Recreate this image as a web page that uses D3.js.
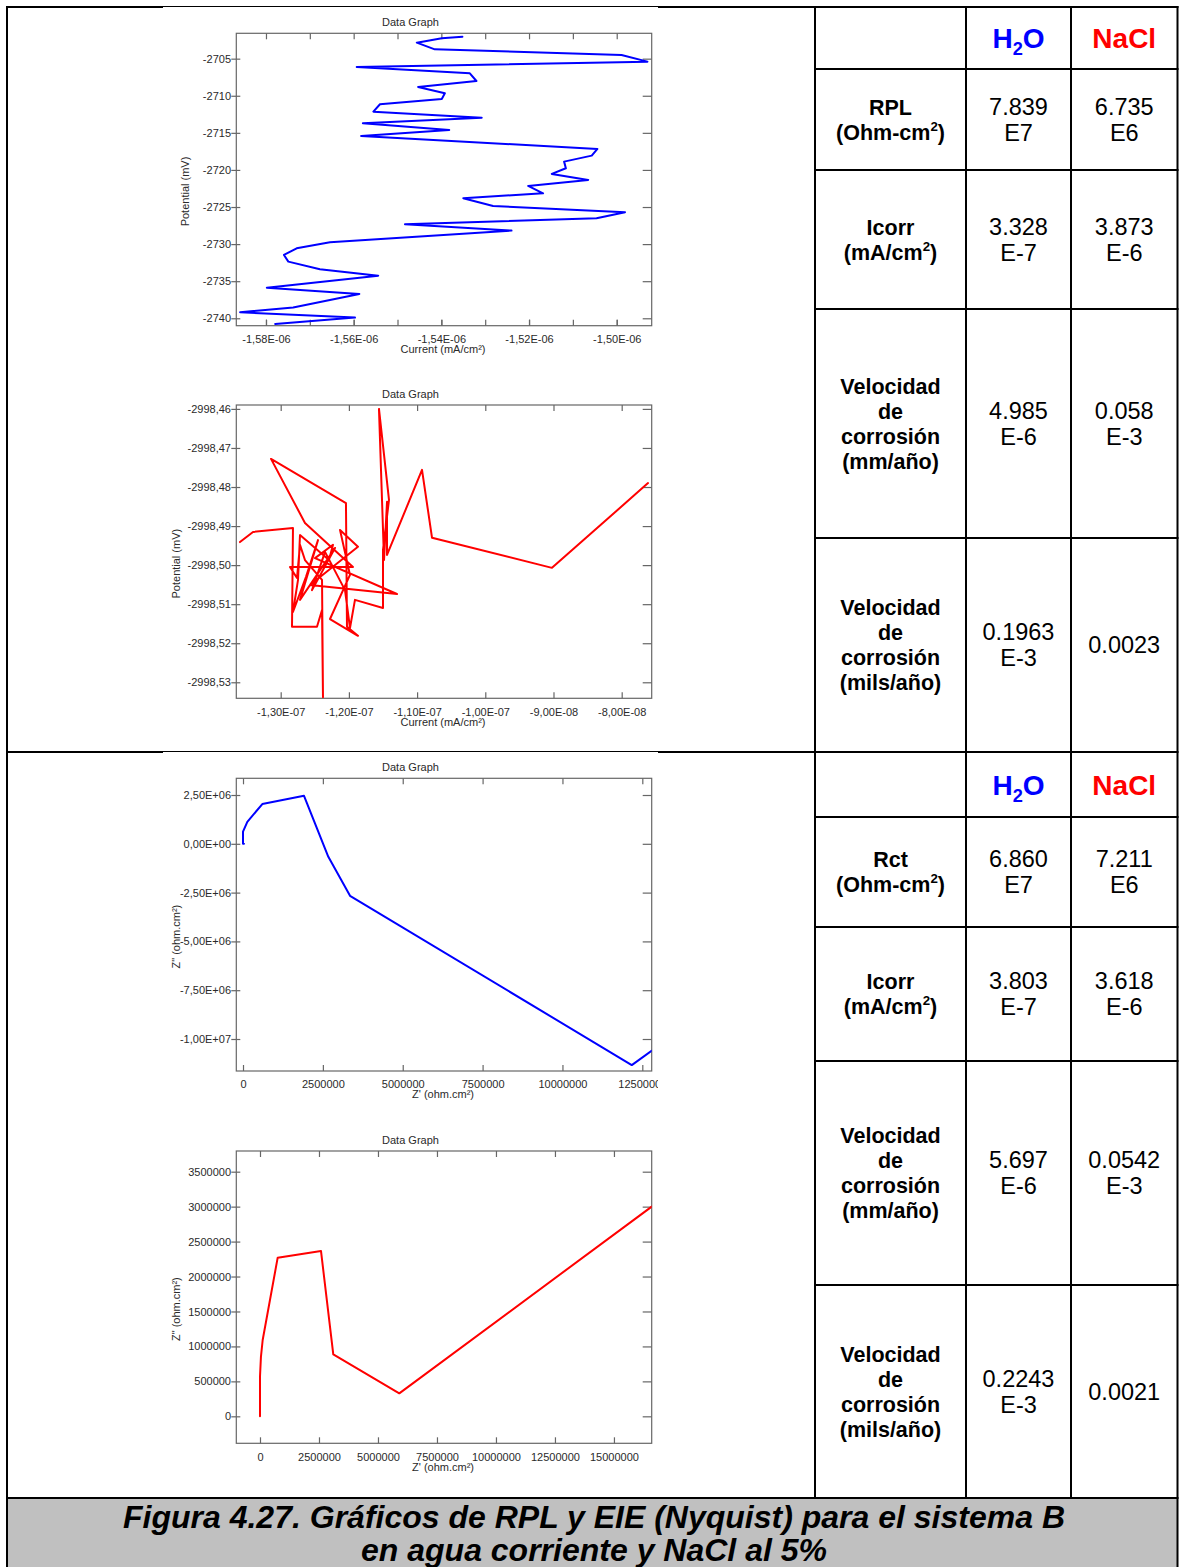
<!DOCTYPE html>
<html lang="es">
<head>
<meta charset="utf-8">
<title>Figura 4.27 – RPL y EIE (Nyquist), sistema B</title>
<script src="https://cdn.jsdelivr.net/npm/d3@7/dist/d3.min.js"></script>
<style>
  html, body { margin: 0; padding: 0; background: #fff; }
  svg { display: block; }
  .chart text { font-family: "Liberation Sans", Arial, sans-serif; fill: #2a2a2a; }
  .tbl text { font-family: "Liberation Sans", Arial, sans-serif; fill: #000; }
  .caption text { font-family: "Liberation Sans Narrow", "Arial Narrow", "Liberation Sans", Arial, sans-serif; fill: #000; }
</style>
</head>
<body>
<svg id="fig" width="1180" height="1567"></svg>
<script>
// ---------- RPL sweep, tap water (current mA/cm², potential mV) ----------
const rplH2OCurrent = [
  -1.5352e-6, -1.5399e-6, -1.5456e-6, -1.5415e-6, -1.4989e-6, -1.4930e-6, -1.5593e-6, -1.5335e-6,
  -1.5320e-6, -1.5453e-6, -1.5392e-6, -1.5399e-6, -1.5540e-6, -1.5555e-6, -1.5308e-6, -1.5579e-6,
  -1.5382e-6, -1.5583e-6, -1.5044e-6, -1.5057e-6, -1.5120e-6, -1.5116e-6, -1.5148e-6, -1.5065e-6,
  -1.5202e-6, -1.5168e-6, -1.5350e-6, -1.5282e-6, -1.4981e-6, -1.5046e-6, -1.5483e-6, -1.5240e-6,
  -1.5654e-6, -1.5730e-6, -1.5759e-6, -1.5749e-6, -1.5677e-6, -1.5544e-6, -1.5798e-6, -1.5587e-6,
  -1.5738e-6, -1.5859e-6, -1.5597e-6, -1.5779e-6
];
const rplH2OPotential = [
  -2702.03, -2702.25, -2702.84, -2703.74, -2704.50, -2705.40, -2706.12, -2706.97,
  -2708.01, -2708.82, -2709.67, -2710.43, -2711.15, -2712.14, -2712.95, -2713.71,
  -2714.61, -2715.42, -2717.17, -2718.07, -2718.88, -2719.78, -2720.54, -2721.35,
  -2722.16, -2723.15, -2723.82, -2724.86, -2725.71, -2726.52, -2727.33, -2728.18,
  -2729.75, -2730.56, -2731.46, -2732.36, -2733.39, -2734.25, -2735.87, -2736.72,
  -2738.56, -2739.19, -2739.91, -2740.76
];
const rplH2OXTicks = [-1.58e-6, -1.56e-6, -1.54e-6, -1.52e-6, -1.50e-6];
const rplH2OXMinor = [-1.58e-6, -1.57e-6, -1.56e-6, -1.55e-6, -1.54e-6, -1.53e-6, -1.52e-6, -1.51e-6, -1.50e-6];
const rplH2OYTicks = [-2705, -2710, -2715, -2720, -2725, -2730, -2735, -2740];

// ---------- RPL sweep, 5% NaCl ----------
const rplNaClCurrent = [
  -1.3597e-7, -1.3406e-7, -1.2820e-7, -1.2834e-7, -1.2468e-7, -1.2394e-7, -1.2380e-7, -1.2394e-7,
  -1.2644e-7, -1.2717e-7, -1.2761e-7, -1.2864e-7, -1.1940e-7, -1.2644e-7, -1.3142e-7, -1.2043e-7,
  -1.2028e-7, -1.1867e-7, -1.2277e-7, -1.1984e-7, -1.2130e-7, -1.1867e-7, -1.2570e-7, -1.1295e-7,
  -1.2497e-7, -1.2233e-7, -1.2292e-7, -1.2717e-7, -1.2746e-7, -1.2820e-7, -1.2629e-7, -1.2453e-7,
  -1.2717e-7, -1.2204e-7, -1.2541e-7, -1.2350e-7,
  -1.2057e-7, -1.1984e-7, -1.1911e-7, -1.1500e-7, -1.1500e-7, -1.1412e-7, -1.1559e-7, -1.1485e-7,
  -1.1441e-7, -1.1441e-7, -1.0928e-7, -1.0781e-7, -0.9022e-7, -0.7614e-7
];
const rplNaClPotential = [
  -2998.4941, -2998.4915, -2998.4905, -2998.5158, -2998.5158, -2998.5115, -2998.5338, -2998.5038,
  -2998.4987, -2998.4948, -2998.5033, -2998.5005, -2998.5005, -2998.4892, -2998.4728, -2998.4841,
  -2998.5158, -2998.5181, -2998.5138, -2998.5025, -2998.4910, -2998.4953, -2998.5051, -2998.5074,
  -2998.4982, -2998.4948, -2998.4987, -2998.4923, -2998.5038, -2998.5120, -2998.5030, -2998.4936,
  -2998.5089, -2998.4956, -2998.5064, -2998.4966,
  -2998.5064, -2998.5161, -2998.5089, -2998.5110, -2998.4961, -2998.4833, -2998.4600, -2998.4987,
  -2998.4838, -2998.4974, -2998.4756, -2998.4930, -2998.5007, -2998.4790
];
const rplNaClXTicks = [-1.30e-7, -1.20e-7, -1.10e-7, -1.00e-7, -9.00e-8, -8.00e-8];
const rplNaClYTicks = [-2998.46, -2998.47, -2998.48, -2998.49, -2998.50, -2998.51, -2998.52, -2998.53];

// ---------- EIS Nyquist, tap water (ohm.cm²) ----------
const eisH2OZre = [30000, 0, 0, 135000, 604000, 1910000, 2671000, 3350000, 12170000, 12790000];
const eisH2OZim = [0, 0, 620000, 1127000, 2034000, 2459000, -666000, -2664000, -11337000, -10605000];
const eisH2OXTicks = [0, 2500000, 5000000, 7500000, 10000000, 12500000];
const eisH2OYTicks = [2.5e6, 0, -2.5e6, -5e6, -7.5e6, -1e7];

// ---------- EIS Nyquist, 5% NaCl ----------
const eisNaClZre = [0, 0, 40000, 114000, 750000, 2585000, 3106000, 5903000, 16600000];
const eisNaClZim = [0, 567000, 850000, 1092000, 2270000, 2366000, 887000, 329000, 3000000];
const eisNaClXTicks = [0, 2500000, 5000000, 7500000, 10000000, 12500000, 15000000];
const eisNaClYTicks = [0, 500000, 1000000, 1500000, 2000000, 2500000, 3000000, 3500000];

// ---------- summary tables ----------
const tableHeaders = ["H_2O", "NaCl"];
const rplRowLabels = [
  ["RPL", "(Ohm-cm^2)"],
  ["Icorr", "(mA/cm^2)"],
  ["Velocidad", "de", "corrosión", "(mm/año)"],
  ["Velocidad", "de", "corrosión", "(mils/año)"]
];
const rplH2OValues = [["7.839", "E7"], ["3.328", "E-7"], ["4.985", "E-6"], ["0.1963", "E-3"]];
const rplNaClValues = [["6.735", "E6"], ["3.873", "E-6"], ["0.058", "E-3"], ["0.0023"]];
const eisRowLabels = [
  ["Rct", "(Ohm-cm^2)"],
  ["Icorr", "(mA/cm^2)"],
  ["Velocidad", "de", "corrosión", "(mm/año)"],
  ["Velocidad", "de", "corrosión", "(mils/año)"]
];
const eisH2OValues = [["6.860", "E7"], ["3.803", "E-7"], ["5.697", "E-6"], ["0.2243", "E-3"]];
const eisNaClValues = [["7.211", "E6"], ["3.618", "E-6"], ["0.0542", "E-3"], ["0.0021"]];

const captionLines = [
  "Figura 4.27. Gráficos de RPL y EIE (Nyquist) para el sistema B",
  "en agua corriente y NaCl al 5%"
];

// ---------- formatting helpers ----------
const fmtSci = v => {
  const [m, e] = v.toExponential(2).split("e");
  const sign = e[0] === "-" ? "-" : "+";
  return m.replace(".", ",") + "E" + sign + e.replace(/[+-]/, "").padStart(2, "0");
};
const fmtComma2 = v => v.toFixed(2).replace(".", ",");
const fmtInt = d3.format("d");

// ---------- layout ----------
const svg = d3.select("#fig");
const defs = svg.append("defs");
const BLUE = "#0000ff", RED = "#ff0000";
const FX0 = 236.3, FX1 = 651.7;           // plot frame, horizontal extent
const IMG_X0 = 163, IMG_X1 = 658;          // embedded graph images
const colX = [815, 966, 1071, 1177.5];
const topRows = [7, 69, 170, 309, 538, 752];
const botRows = [752, 817, 927, 1061, 1285, 1498];

svg.append("rect").attr("width", 1180).attr("height", 1567).attr("fill", "#fff");

// caption band
svg.append("rect").attr("x", 7).attr("y", 1498).attr("width", 1170.5).attr("height", 69).attr("fill", "#c0c0c0");

// grid of the layout table
const grid = svg.append("g").attr("stroke", "#000").attr("stroke-width", 2);
[7, colX[3]].forEach(x => grid.append("line").attr("x1", x).attr("x2", x).attr("y1", 6).attr("y2", 1567));
colX.slice(0, 3).forEach(x => grid.append("line").attr("x1", x).attr("x2", x).attr("y1", 6).attr("y2", 1498));
[7, 752, 1498].forEach(y => grid.append("line").attr("x1", 6).attr("x2", 1178.5).attr("y1", y).attr("y2", y));
topRows.slice(1, 5).concat(botRows.slice(1, 5)).forEach(y =>
  grid.append("line").attr("x1", colX[0]).attr("x2", 1178.5).attr("y1", y).attr("y2", y));

// white image areas (they sit slightly over the frame lines)
svg.append("rect").attr("x", IMG_X0).attr("y", 7).attr("width", IMG_X1 - IMG_X0).attr("height", 744).attr("fill", "#fff");
svg.append("rect").attr("x", IMG_X0).attr("y", 752).attr("width", IMG_X1 - IMG_X0).attr("height", 745).attr("fill", "#fff");

function styleAxis(s) {
  s.select(".domain").remove();
  s.attr("font-size", 11).attr("font-family", null);
  s.selectAll(".tick line").attr("stroke", "#666").attr("stroke-width", 1.2);
}

function drawChart(c) {
  defs.append("clipPath").attr("id", c.id + "-img")
    .append("rect").attr("x", IMG_X0).attr("y", c.imgY0).attr("width", IMG_X1 - IMG_X0).attr("height", c.imgY1 - c.imgY0);
  defs.append("clipPath").attr("id", c.id + "-plot")
    .append("rect").attr("x", FX0).attr("y", c.fy0).attr("width", FX1 - FX0).attr("height", c.fy1 - c.fy0);

  const g = svg.append("g").attr("class", "chart").attr("clip-path", `url(#${c.id}-img)`);
  const x = d3.scaleLinear().domain(c.xDomain).range([FX0, FX1]);
  const y = d3.scaleLinear().domain(c.yDomain).range([c.fy1, c.fy0]);

  g.append("text").attr("x", (IMG_X0 + IMG_X1) / 2).attr("y", c.fy0 - 11.3).attr("dy", "0.35em")
    .attr("text-anchor", "middle").attr("font-size", 11).text("Data Graph");

  // bottom axis with labels (ticks point inward)
  g.append("g").attr("transform", `translate(0,${c.fy1})`)
    .call(d3.axisBottom(x).tickValues(c.xTicks).tickFormat(c.fmtX).tickSizeInner(-6).tickSizeOuter(0).tickPadding(9.5))
    .call(styleAxis);
  if (c.xMinor) {
    g.append("g").attr("transform", `translate(0,${c.fy1})`)
      .call(d3.axisBottom(x).tickValues(c.xMinor).tickFormat("").tickSizeInner(-6).tickSizeOuter(0))
      .call(styleAxis);
  }
  // top axis
  g.append("g").attr("transform", `translate(0,${c.fy0})`)
    .call(d3.axisTop(x).tickValues(c.xMinor || c.xTicks).tickFormat("").tickSizeInner(-6).tickSizeOuter(0))
    .call(styleAxis);
  // left axis (ticks cross the frame)
  g.append("g").attr("transform", `translate(${FX0},0)`)
    .call(d3.axisLeft(y).tickValues(c.yTicks).tickFormat(c.fmtY).tickSizeInner(5).tickSizeOuter(0).tickPadding(0.3))
    .call(styleAxis)
    .call(s => s.selectAll(".tick line").attr("x1", 4));
  // right axis
  g.append("g").attr("transform", `translate(${FX1},0)`)
    .call(d3.axisRight(y).tickValues(c.yTicks).tickFormat("").tickSizeInner(-9).tickSizeOuter(0))
    .call(styleAxis);

  g.append("rect").attr("x", FX0).attr("y", c.fy0).attr("width", FX1 - FX0).attr("height", c.fy1 - c.fy0)
    .attr("fill", "none").attr("stroke", "#666").attr("stroke-width", 1.2);

  const pts = c.xs.map((v, i) => [v, c.ys[i]]);
  g.append("path").datum(pts).attr("clip-path", `url(#${c.id}-plot)`)
    .attr("d", d3.line().x(d => x(d[0])).y(d => y(d[1])))
    .attr("fill", "none").attr("stroke", c.color).attr("stroke-width", 2)
    .attr("stroke-linejoin", "round").attr("stroke-linecap", "round");

  g.append("text").attr("x", (FX0 + FX1) / 2 - 1).attr("y", c.fy1 + 23.5).attr("dy", "0.35em")
    .attr("text-anchor", "middle").attr("font-size", 11).text(c.xTitle);
  g.append("text").attr("transform", `translate(${c.yTitleX},${(c.fy0 + c.fy1) / 2 + 12}) rotate(-90)`)
    .attr("dy", "0.35em").attr("text-anchor", "middle").attr("font-size", 11).text(c.yTitle);
}

drawChart({
  id: "rplh2o", imgY0: 7, imgY1: 380, fy0: 33.3, fy1: 325.7,
  xDomain: [-1.58677e-6, -1.49202e-6], yDomain: [-2741.0, -2701.58],
  xTicks: rplH2OXTicks, xMinor: rplH2OXMinor, yTicks: rplH2OYTicks,
  fmtX: fmtSci, fmtY: d => String(d),
  xs: rplH2OCurrent, ys: rplH2OPotential, color: BLUE,
  xTitle: "Current (mA/cm²)", yTitle: "Potential (mV)", yTitleX: 185.3
});
drawChart({
  id: "rplnacl", imgY0: 380, imgY1: 751, fy0: 405, fy1: 698.3,
  xDomain: [-1.3651e-7, -7.56e-8], yDomain: [-2998.5341, -2998.459],
  xTicks: rplNaClXTicks, yTicks: rplNaClYTicks,
  fmtX: fmtSci, fmtY: fmtComma2,
  xs: rplNaClCurrent, ys: rplNaClPotential, color: RED,
  xTitle: "Current (mA/cm²)", yTitle: "Potential (mV)", yTitleX: 176
});
drawChart({
  id: "eish2o", imgY0: 752, imgY1: 1125, fy0: 778.3, fy1: 1071,
  xDomain: [-210000, 12794000], yDomain: [-11639000, 3356000],
  xTicks: eisH2OXTicks, yTicks: eisH2OYTicks,
  fmtX: fmtInt, fmtY: fmtSci,
  xs: eisH2OZre, ys: eisH2OZim, color: BLUE,
  xTitle: "Z' (ohm.cm²)", yTitle: "Z\" (ohm.cm²)", yTitleX: 176
});
drawChart({
  id: "eisnacl", imgY0: 1125, imgY1: 1497, fy0: 1151, fy1: 1443.3,
  xDomain: [-1004000, 16600000], yDomain: [-386000, 3796000],
  xTicks: eisNaClXTicks, yTicks: eisNaClYTicks,
  fmtX: fmtInt, fmtY: fmtInt,
  xs: eisNaClZre, ys: eisNaClZim, color: RED,
  xTitle: "Z' (ohm.cm²)", yTitle: "Z\" (ohm.cm²)", yTitleX: 176
});

// ---------- tables ----------
// "^2" renders a superscript digit, "_2" a subscript digit; the shift is undone on the next run
function richText(textSel, str, size) {
  let carry = 0;
  str.split(/([\^_]\d)/).filter(p => p).forEach(p => {
    if (p[0] === "^") {
      textSel.append("tspan").attr("font-size", size * 0.62).attr("dy", carry - size * 0.42).text(p.slice(1));
      carry = size * 0.42;
    } else if (p[0] === "_") {
      textSel.append("tspan").attr("font-size", size * 0.65).attr("dy", carry + size * 0.26).text(p.slice(1));
      carry = -size * 0.26;
    } else {
      textSel.append("tspan").attr("dy", carry).text(p);
      carry = 0;
    }
  });
}

function cellLines(g, cx, cy, lines, spacing, size, weight, color) {
  const first = cy - (lines.length - 1) * spacing / 2;
  lines.forEach((ln, i) => {
    const t = g.append("text").attr("x", cx).attr("y", first + i * spacing + size * 0.36)
      .attr("text-anchor", "middle").attr("font-size", size).attr("font-weight", weight);
    if (color) t.style("fill", color);
    richText(t, ln, size);
  });
}

function drawTable(rows, labels, h2o, nacl) {
  const t = svg.append("g").attr("class", "tbl");
  const cxL = (colX[0] + colX[1]) / 2, cxA = (colX[1] + colX[2]) / 2, cxB = (colX[2] + colX[3]) / 2;
  const hy = (rows[0] + rows[1]) / 2;
  cellLines(t, cxA, hy, [tableHeaders[0]], 0, 28, "bold", BLUE);
  cellLines(t, cxB, hy, [tableHeaders[1]], 0, 28, "bold", RED);
  labels.forEach((lab, i) => {
    const cy = (rows[i + 1] + rows[i + 2]) / 2;
    cellLines(t, cxL, cy, lab, 25, 21.5, "bold");
    cellLines(t, cxA, cy, h2o[i], 26, 23.5, "normal");
    cellLines(t, cxB, cy, nacl[i], 26, 23.5, "normal");
  });
}
drawTable(topRows, rplRowLabels, rplH2OValues, rplNaClValues);
drawTable(botRows, eisRowLabels, eisH2OValues, eisNaClValues);

// ---------- caption ----------
const cap = svg.append("g").attr("class", "caption");
const capWidths = [942, 466];
const capBase = [1528, 1561];
captionLines.forEach((ln, i) => {
  cap.append("text").attr("x", 594).attr("y", capBase[i]).attr("text-anchor", "middle")
    .attr("font-size", 31).attr("font-weight", "bold").attr("font-style", "italic")
    .attr("textLength", capWidths[i]).attr("lengthAdjust", "spacingAndGlyphs").text(ln);
});
</script>
</body>
</html>
